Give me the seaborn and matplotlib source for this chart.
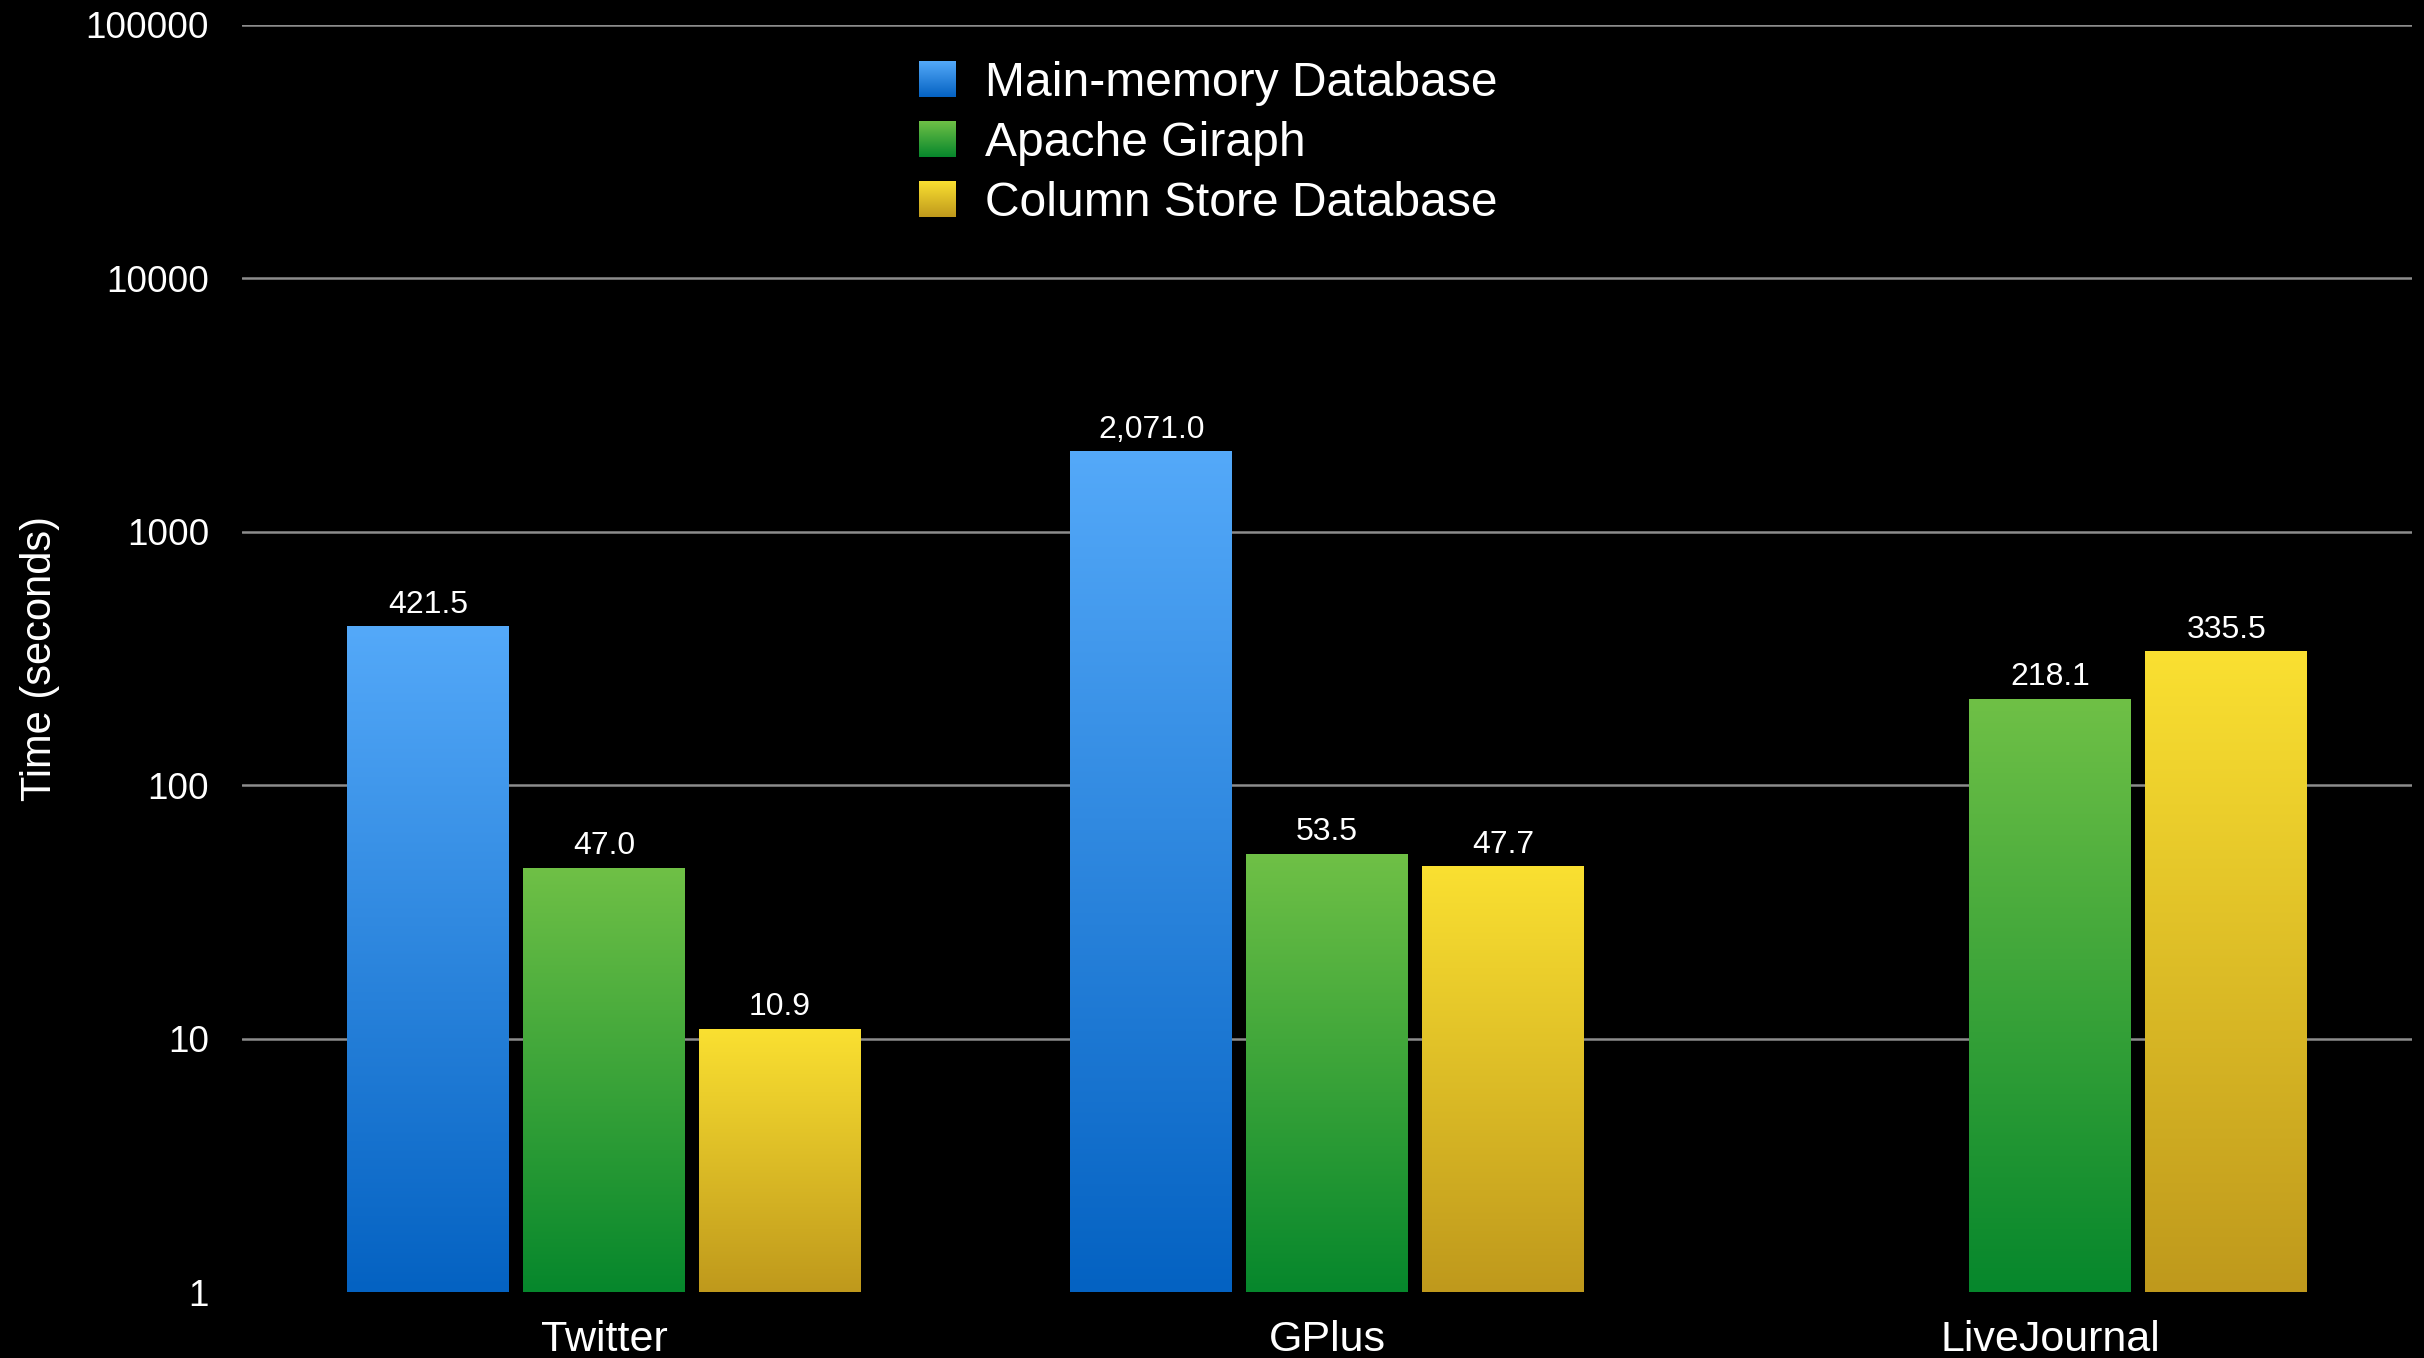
import numpy as np
import pandas as pd
import matplotlib
matplotlib.use("Agg")
import matplotlib.pyplot as plt
from matplotlib.patches import Patch
from matplotlib.colors import to_rgb
import seaborn as sns

# data
datasets = ["Twitter", "GPlus", "LiveJournal"]
systems = ["Main-memory Database", "Apache Giraph", "Column Store Database"]
main_memory = [421.5, 2071.0, None]
giraph = [47.0, 53.5, 218.1]
column_store = [10.9, 47.7, 335.5]

y_ticks = [1, 10, 100, 1000, 10000, 100000]

# gradient (top, bottom) per series
grad_top = ["#54a9f9", "#6fc046", "#fae031"]
grad_bottom = ["#0462c2", "#06872c", "#bf991c"]

rows = []
for sys_name, vals in zip(systems, [main_memory, giraph, column_store]):
    for ds, v in zip(datasets, vals):
        if v is not None:
            rows.append({"dataset": ds, "system": sys_name, "time": v})
df = pd.DataFrame(rows)

sns.set_theme(style="dark")
plt.rcParams["font.family"] = ["Liberation Sans", "DejaVu Sans"]

fig = plt.figure(figsize=(12.12, 6.79), dpi=200, facecolor="black")
ax = fig.add_axes([0.100, 0.0486, 0.895, 0.933])
ax.set_facecolor("black")

mid_cols = [tuple((np.array(to_rgb(a)) + np.array(to_rgb(b))) / 2) for a, b in zip(grad_top, grad_bottom)]
sns.barplot(data=df, x="dataset", y="time", hue="system", order=datasets,
            hue_order=systems, palette=mid_cols, width=0.73, gap=0.08,
            legend=False, ax=ax, zorder=3, linewidth=0)

ax.set_yscale("log")
ax.set_ylim(1, 100000)
ax.set_xlim(-0.5, 2.5)
ax.set_autoscale_on(False)

ax.set_yticks(y_ticks)
ax.set_yticklabels([str(t) for t in y_ticks])
ax.yaxis.set_minor_locator(matplotlib.ticker.NullLocator())
ax.tick_params(axis="y", colors="white", labelsize=13.3, length=0, pad=12)
ax.tick_params(axis="x", colors="white", labelsize=15.5, length=0, pad=10)
ax.grid(axis="y", color="#8c8c8c", linewidth=0.9, zorder=0)
ax.grid(axis="x", visible=False)
ax.yaxis.get_gridlines()[0].set_visible(False)
for s in ax.spines.values():
    s.set_visible(False)
ax.set_xlabel("")
ax.set_ylabel("Time (seconds)", color="white", fontsize=15)
ax.yaxis.set_label_coords(-0.084, 0.5)


def gradient(top, bottom, n=256):
    t = np.linspace(0, 1, n)[:, None]
    a = np.array(to_rgb(top))
    b = np.array(to_rgb(bottom))
    return (a * (1 - t) + b * t)[:, None, :]


# paint each bar with a vertical gradient
to_axes = ax.transData + ax.transAxes.inverted()
for k, cont in enumerate(ax.containers):
    img = gradient(grad_top[k], grad_bottom[k])
    for bar in cont:
        h = bar.get_height()
        if not np.isfinite(h) or h <= 0:
            continue
        x0, x1 = bar.get_x(), bar.get_x() + bar.get_width()
        (ax0, ay0), (ax1, ay1) = to_axes.transform([(x0, 1), (x1, h)])
        ax.imshow(img, extent=(ax0, ax1, ay0, ay1), transform=ax.transAxes,
                  aspect="auto", interpolation="bilinear", zorder=3)
        bar.set_visible(False)
    labels = [f"{b.get_height():,.1f}" if np.isfinite(b.get_height()) else "" for b in cont]
    ax.bar_label(cont, labels=labels, padding=2.5, color="white", fontsize=11.5)

ax.set_xlim(-0.5, 2.5)
ax.set_ylim(1, 100000)

handles = [Patch(facecolor=c, edgecolor="none", label=s) for c, s in zip(mid_cols, systems)]
leg = ax.legend(handles=handles, loc="upper left", bbox_to_anchor=(0.379, 0.955),
                bbox_transform=fig.transFigure, frameon=False, fontsize=17.3,
                handlelength=0.75, handleheight=0.77, handletextpad=0.63,
                labelspacing=0.31, borderpad=0, borderaxespad=0)
for t in leg.get_texts():
    t.set_color("white")

fig.canvas.draw()
inv = ax.transAxes.inverted()
for k, p in enumerate(leg.get_patches()):
    bb = p.get_window_extent()
    (lx0, ly0), (lx1, ly1) = inv.transform([(bb.x0, bb.y0), (bb.x1, bb.y1)])
    ax.imshow(gradient(grad_top[k], grad_bottom[k]), extent=(lx0, lx1, ly0, ly1),
              transform=ax.transAxes, aspect="auto", zorder=6, clip_on=False)
ax.set_xlim(-0.5, 2.5)
ax.set_ylim(1, 100000)

fig.savefig("out.png", dpi=200, facecolor="black")
